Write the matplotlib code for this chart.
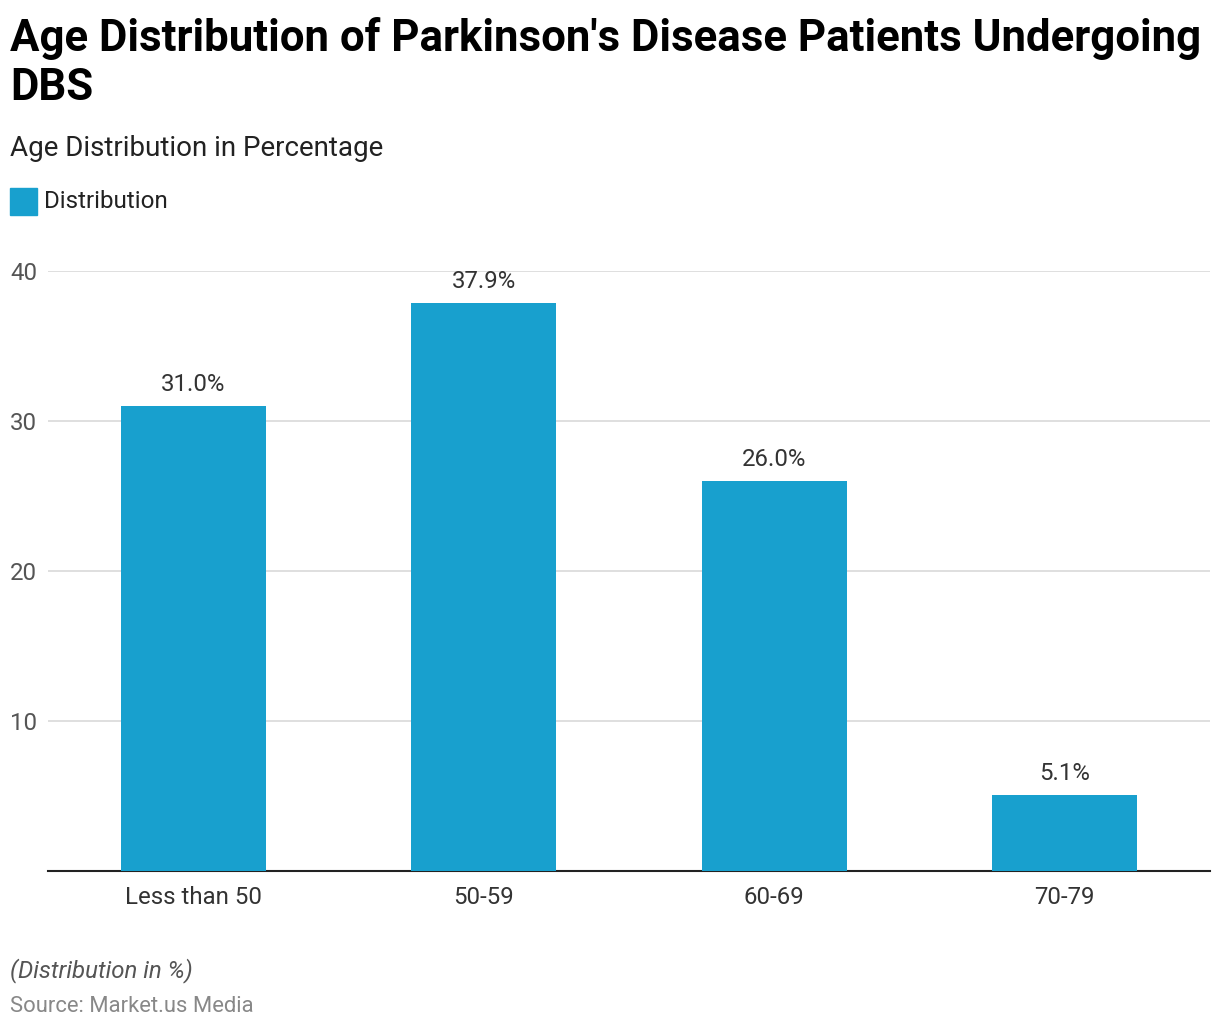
import matplotlib.pyplot as plt

plt.rcParams['font.family'] = ['Roboto', 'DejaVu Sans']

categories = ['Less than 50', '50-59', '60-69', '70-79']
values = [31.0, 37.9, 26.0, 5.1]
yticks = [10, 20, 30, 40]

bar_color = '#18A0CE'

fig = plt.figure(figsize=(12.2, 10.32), dpi=100)
ax = fig.add_axes([48 / 1220, 1 - 871 / 1032, (1210 - 48) / 1220, 600 / 1032])

x = range(len(categories))
ax.bar(x, values, width=0.5, color=bar_color, zorder=3)
for xi, v in zip(x, values):
    ax.annotate(f'{v:.1f}%', (xi, v), xytext=(0, 7), textcoords='offset points',
                ha='center', va='bottom', fontsize=17.3, color='#333333')

ax.set_xlim(-0.5, 3.5)
ax.set_ylim(0, 40)
ax.set_xticks(list(x))
ax.set_xticklabels(categories, fontsize=17.3, color='#333333')
ax.set_yticks(yticks)
ax.set_yticklabels([str(t) for t in yticks], fontsize=17.3, color='#555555')
ax.tick_params(axis='x', length=0, pad=10.5)
ax.tick_params(axis='y', length=0, pad=0)
for lbl in ax.get_yticklabels():
    lbl.set_horizontalalignment('left')
    lbl.set_x(-38 / 1162)
ax.grid(axis='y', color='#d9d9d9', linewidth=1.2, zorder=0)
for s in ['top', 'right', 'left']:
    ax.spines[s].set_visible(False)
ax.spines['bottom'].set_color('#222222')
ax.spines['bottom'].set_linewidth(1.5)

fig.text(10 / 1220, 1 - 38 / 1032, "Age Distribution of Parkinson's Disease Patients Undergoing",
         fontsize=31.5, fontweight='bold', va='center', ha='left', color='#000000')
fig.text(10 / 1220, 1 - 88 / 1032, 'DBS',
         fontsize=31.5, fontweight='bold', va='center', ha='left', color='#000000')
fig.text(10 / 1220, 1 - 149 / 1032, 'Age Distribution in Percentage',
         fontsize=20, va='center', ha='left', color='#222222')

fig.patches.append(plt.Rectangle((10 / 1220, 1 - 215 / 1032), 27 / 1220, 27 / 1032,
                                 transform=fig.transFigure, color=bar_color))
fig.text(44 / 1220, 1 - 201 / 1032, 'Distribution',
         fontsize=17.4, va='center', ha='left', color='#222222')

fig.text(10 / 1220, 1 - 971 / 1032, '(Distribution in %)',
         fontsize=17.3, style='italic', va='center', ha='left', color='#555555')
fig.text(10 / 1220, 1 - 1007 / 1032, 'Source: Market.us Media',
         fontsize=15.8, va='center', ha='left', color='#888888')

fig.savefig('out.png', dpi=100)
